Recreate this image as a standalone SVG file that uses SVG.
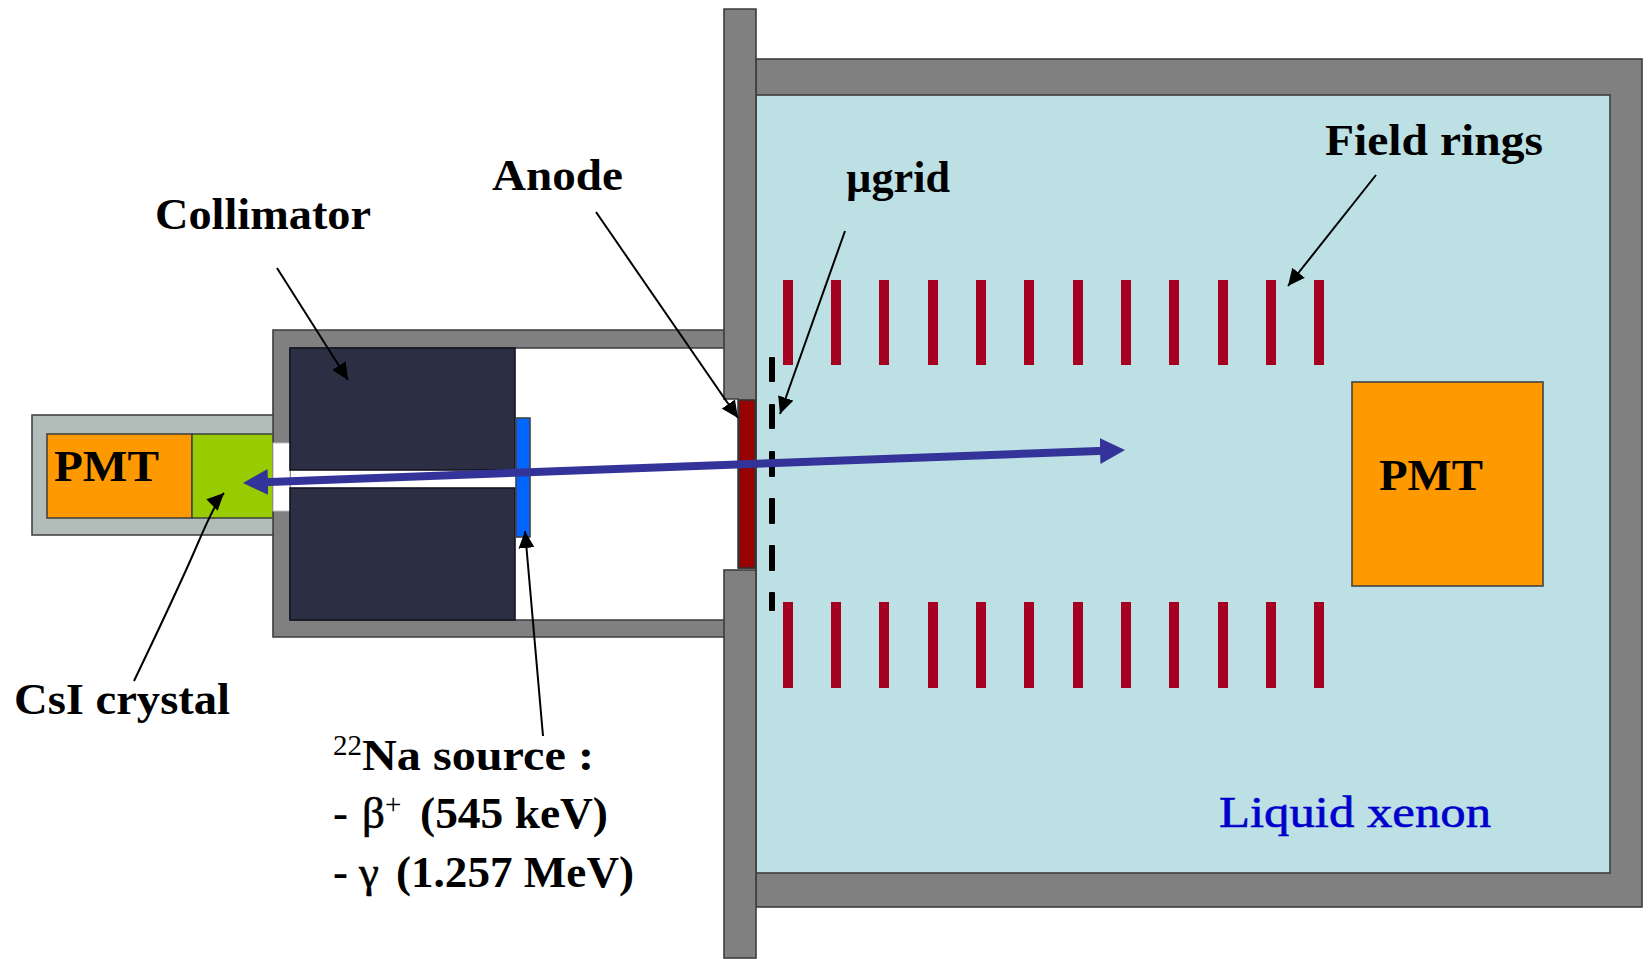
<svg xmlns="http://www.w3.org/2000/svg" width="1648" height="959" viewBox="0 0 1648 959">
<style>
text{font-family:"Liberation Serif","Times New Roman",serif;font-weight:bold;font-size:45px;fill:#000}
.wall{fill:#808080;stroke:#3c3c3c;stroke-width:1.6}
.ring{fill:#a50021}
.dash{fill:#000}
.ptr{fill:none;stroke:#000;stroke-width:2}
.sup{font-size:29px;font-weight:normal}
.greek{font-weight:normal;stroke:#000;stroke-width:.6}
</style>
<defs>
<marker id="ah" markerUnits="userSpaceOnUse" markerWidth="18" markerHeight="16" refX="17" refY="8" orient="auto"><path d="M0 0L17 8L0 16Z" fill="#000"/></marker>
<marker id="bh" markerUnits="userSpaceOnUse" markerWidth="26" markerHeight="28" refX="5" refY="14" orient="auto-start-reverse"><path d="M0 1L25 14L0 27Z" fill="#333399"/></marker>
</defs>
<rect width="1648" height="959" fill="#fff"/>
<g id="chamber">
<rect class="wall" x="756" y="59" width="886" height="848"/>
<rect x="756" y="95" width="854" height="778" fill="#bce0e4" stroke="#3c3c3c" stroke-width="1.6"/>
</g>
<g id="holder">
<path class="wall" d="M273 330H725V348H290V620H725V637H273Z"/>
</g>
<g id="flange">
<path class="wall" d="M724 9H756V568H738V399H724Z"/>
<rect class="wall" x="724" y="570" width="32" height="388"/>
</g>
<g id="pmt-housing">
<rect x="32" y="415" width="241" height="120" fill="#b2bdb9" stroke="#444" stroke-width="1.6"/>
</g>
<g id="pmt-left">
<rect x="47" y="434" width="145" height="84" fill="#ff9900" stroke="#444" stroke-width="1.6"/>
<text x="54" y="481" textLength="105" lengthAdjust="spacingAndGlyphs">PMT</text>
</g>
<g id="csi-crystal">
<rect x="192" y="434" width="81" height="84" fill="#99cc00" stroke="#444" stroke-width="1.6"/>
</g>
<g id="opening"><rect x="273" y="443" width="17" height="68" fill="#fff" stroke="#bbb" stroke-width="1"/></g>
<g id="collimator">
<rect x="290" y="348" width="225" height="122" fill="#2c2e43" stroke="#14151f" stroke-width="1.6"/>
<rect x="290" y="488" width="225" height="132" fill="#2c2e43" stroke="#14151f" stroke-width="1.6"/>
</g>
<g id="source"><rect x="516" y="418" width="14" height="119" fill="#0066ff" stroke="#444" stroke-width="1.6"/></g>
<g id="anode"><rect x="739" y="400" width="16" height="168" fill="#990000" stroke="#333" stroke-width="1.6"/></g>
<g id="grid">
<rect class="dash" x="769" y="357" width="6" height="25" rx="1"/>
<rect class="dash" x="769" y="404" width="6" height="25" rx="1"/>
<rect class="dash" x="769" y="451" width="6" height="26" rx="1"/>
<rect class="dash" x="769" y="498" width="6" height="26" rx="1"/>
<rect class="dash" x="769" y="545" width="6" height="26" rx="1"/>
<rect class="dash" x="769" y="592" width="6" height="19" rx="1"/>
</g>
<g id="field-rings">
<rect class="ring" x="783" y="280" width="10" height="85"/><rect class="ring" x="831" y="280" width="10" height="85"/><rect class="ring" x="879" y="280" width="10" height="85"/><rect class="ring" x="928" y="280" width="10" height="85"/><rect class="ring" x="976" y="280" width="10" height="85"/><rect class="ring" x="1024" y="280" width="10" height="85"/><rect class="ring" x="1073" y="280" width="10" height="85"/><rect class="ring" x="1121" y="280" width="10" height="85"/><rect class="ring" x="1169" y="280" width="10" height="85"/><rect class="ring" x="1218" y="280" width="10" height="85"/><rect class="ring" x="1266" y="280" width="10" height="85"/><rect class="ring" x="1314" y="280" width="10" height="85"/>
<rect class="ring" x="783" y="602" width="10" height="86"/><rect class="ring" x="831" y="602" width="10" height="86"/><rect class="ring" x="879" y="602" width="10" height="86"/><rect class="ring" x="928" y="602" width="10" height="86"/><rect class="ring" x="976" y="602" width="10" height="86"/><rect class="ring" x="1024" y="602" width="10" height="86"/><rect class="ring" x="1073" y="602" width="10" height="86"/><rect class="ring" x="1121" y="602" width="10" height="86"/><rect class="ring" x="1169" y="602" width="10" height="86"/><rect class="ring" x="1218" y="602" width="10" height="86"/><rect class="ring" x="1266" y="602" width="10" height="86"/><rect class="ring" x="1314" y="602" width="10" height="86"/>
</g>
<g id="pmt-right">
<rect x="1352" y="382" width="191" height="204" fill="#ff9900" stroke="#444" stroke-width="1.6"/>
<text x="1379" y="490" textLength="104" lengthAdjust="spacingAndGlyphs">PMT</text>
</g>
<g id="connectors">
<line x1="1105" y1="450.750" x2="263" y2="482.250" stroke="#333399" stroke-width="8" marker-start="url(#bh)" marker-end="url(#bh)"/>
<line class="ptr" x1="277" y1="268" x2="348" y2="380" marker-end="url(#ah)"/>
<path class="ptr" d="M134 681Q180 585 198 543T224 493" marker-end="url(#ah)"/>
<line class="ptr" x1="543" y1="736" x2="525" y2="531" marker-end="url(#ah)"/>
<line class="ptr" x1="596" y1="212" x2="738" y2="418" marker-end="url(#ah)"/>
<line class="ptr" x1="845" y1="231" x2="780" y2="414" marker-end="url(#ah)"/>
<line class="ptr" x1="1376" y1="175" x2="1288" y2="286" marker-end="url(#ah)"/>
</g>
<g id="labels">
<text x="155" y="229" textLength="216" lengthAdjust="spacingAndGlyphs">Collimator</text>
<text x="492" y="190" textLength="131" lengthAdjust="spacingAndGlyphs">Anode</text>
<text x="846" y="192" textLength="104" lengthAdjust="spacingAndGlyphs">µgrid</text>
<text x="1325" y="155" textLength="218" lengthAdjust="spacingAndGlyphs">Field rings</text>
<text x="14" y="714" textLength="216" lengthAdjust="spacingAndGlyphs">CsI crystal</text>
<text x="333" y="770"><tspan class="sup" y="755">22</tspan><tspan x="362" y="770" textLength="232" lengthAdjust="spacingAndGlyphs">Na source :</tspan></text>
<text x="333" y="828">- <tspan class="greek" x="362">β</tspan><tspan class="sup" x="385" y="814">+</tspan><tspan x="420" y="828" textLength="188" lengthAdjust="spacingAndGlyphs">(545 keV)</tspan></text>
<text x="333" y="887">- <tspan class="greek" x="359">γ</tspan><tspan x="396" textLength="238" lengthAdjust="spacingAndGlyphs">(1.257 MeV)</tspan></text>
<text x="1219" y="827" textLength="272" lengthAdjust="spacingAndGlyphs" style="fill:#0000cc;font-weight:normal;stroke:#0000cc;stroke-width:.6">Liquid xenon</text>
</g>
</svg>
